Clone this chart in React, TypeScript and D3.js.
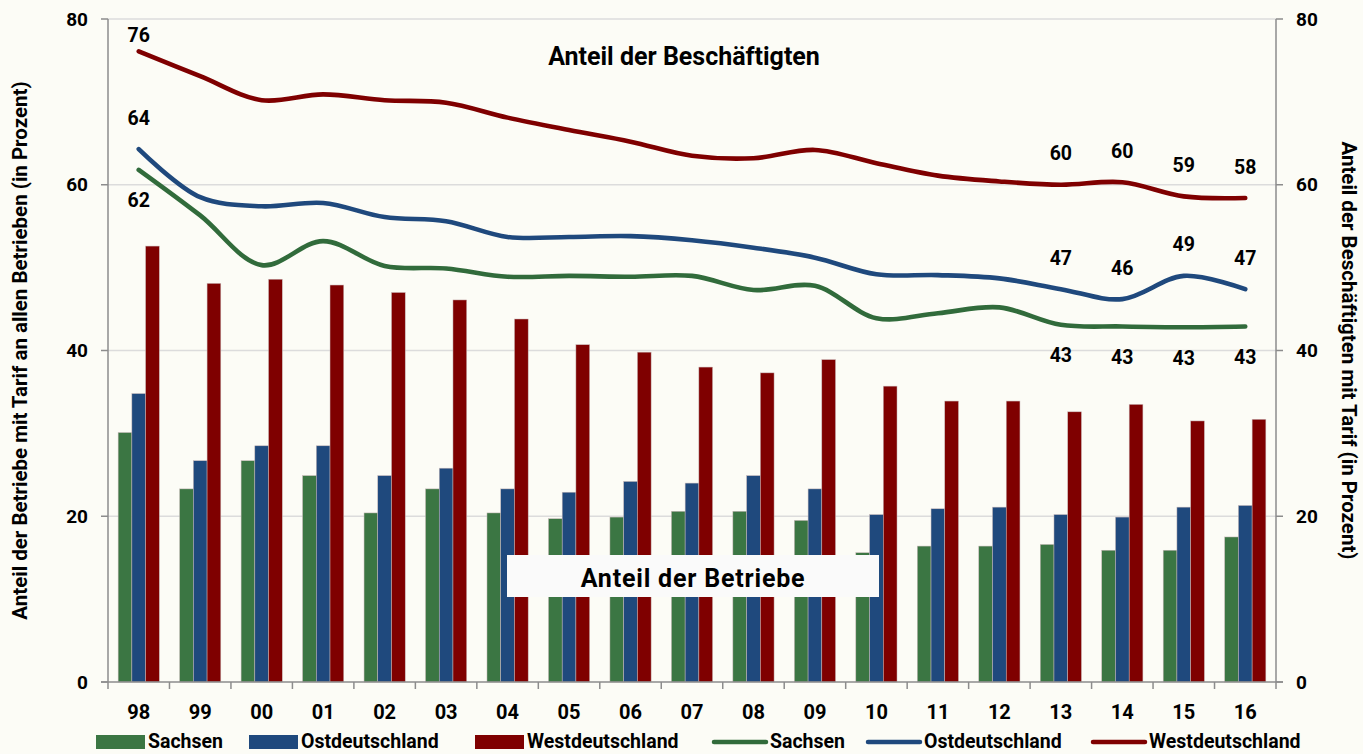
import { useEffect } from 'react';
import * as d3 from 'd3';

const years = ['98', '99', '00', '01', '02', '03', '04', '05', '06', '07', '08', '09', '10', '11', '12', '13', '14', '15', '16'];

// Anteil der Betriebe (Balken, linke Achse)
const betriebeSachsen = [30.1, 23.3, 26.7, 24.9, 20.4, 23.3, 20.4, 19.7, 19.9, 20.6, 20.6, 19.5, 15.6, 16.4, 16.4, 16.6, 15.9, 15.9, 17.5];
const betriebeOst = [34.8, 26.7, 28.5, 28.5, 24.9, 25.8, 23.3, 22.9, 24.2, 24.0, 24.9, 23.3, 20.2, 20.9, 21.1, 20.2, 19.9, 21.1, 21.3];
const betriebeWest = [52.6, 48.1, 48.6, 47.9, 47.0, 46.1, 43.8, 40.7, 39.8, 38.0, 37.3, 38.9, 35.7, 33.9, 33.9, 32.6, 33.5, 31.5, 31.7];

// Anteil der Beschäftigten (Linien, rechte Achse)
const beschSachsen = [61.8, 56.3, 50.3, 53.2, 50.2, 49.9, 48.9, 49.0, 48.9, 49.0, 47.3, 47.8, 43.9, 44.5, 45.2, 43.1, 42.9, 42.8, 42.9];
const beschOst = [64.3, 58.5, 57.4, 57.8, 56.1, 55.6, 53.7, 53.7, 53.8, 53.3, 52.4, 51.2, 49.2, 49.1, 48.7, 47.4, 46.2, 49.0, 47.4];
const beschWest = [76.1, 73.1, 70.2, 70.9, 70.2, 69.9, 68.1, 66.6, 65.2, 63.5, 63.2, 64.2, 62.6, 61.1, 60.4, 60.0, 60.3, 58.6, 58.4];

const labelledIdx = [0, 15, 16, 17, 18];
const yTicks = [0, 20, 40, 60, 80];

const GREEN = '#3b7643';
const BLUE = '#1f497d';
const RED = '#7f0000';
const LINE_GREEN = '#316b3b';
const FONT = 'Roboto, "Open Sans", sans-serif';

export default function App() {
  useEffect(() => {
    document.body.style.margin = '0';
    document.body.style.background = '#fcfcf6';
  }, []);

  const W = 1363;
  const H = 754;
  const left = 108;
  const right = 1276;
  const top = 19;
  const bottom = 682;

  const x = d3.scaleBand<string>().domain(years).range([left, right]).paddingInner(0.33).paddingOuter(0.165);
  const step = (right - left) / years.length;
  const sub = d3.scaleBand<string>().domain(['s', 'o', 'w']).range([0, x.bandwidth()]);
  const y = d3.scaleLinear().domain([0, 80]).range([bottom, top]);
  const cx = (i: number) => (x(years[i]) as number) + x.bandwidth() / 2;

  const line = d3
    .line<number>()
    .x((_, i) => cx(i))
    .y((d) => y(d))
    .curve(d3.curveCatmullRom.alpha(0.5));

  const barSeries = [
    { key: 's', data: betriebeSachsen, color: GREEN },
    { key: 'o', data: betriebeOst, color: BLUE },
    { key: 'w', data: betriebeWest, color: RED },
  ];
  const lineSeries = [
    { data: beschSachsen, color: LINE_GREEN, below: true },
    { data: beschOst, color: BLUE, below: false },
    { data: beschWest, color: RED, below: false },
  ];

  const legendItems = [
    { kind: 'bar', label: 'Sachsen', color: GREEN, x: 96 },
    { kind: 'bar', label: 'Ostdeutschland', color: BLUE, x: 249 },
    { kind: 'bar', label: 'Westdeutschland', color: RED, x: 475 },
    { kind: 'line', label: 'Sachsen', color: LINE_GREEN, x: 714 },
    { kind: 'line', label: 'Ostdeutschland', color: BLUE, x: 868 },
    { kind: 'line', label: 'Westdeutschland', color: RED, x: 1093 },
  ];

  return (
    <svg width={W} height={H} style={{ display: 'block', background: '#fcfcf6', fontFamily: FONT }}>
      {/* grid */}
      {yTicks.slice(1).map((t) => (
        <line key={'g' + t} x1={left} x2={right} y1={y(t)} y2={y(t)} stroke="#dcdcdc" strokeWidth={1.3} />
      ))}

      {/* bars */}
      {barSeries.map((s) =>
        s.data.map((v, i) => (
          <rect
            key={s.key + i}
            x={(x(years[i]) as number) + (sub(s.key) as number)}
            y={y(v)}
            width={sub.bandwidth()}
            height={bottom - y(v)}
            fill={s.color}
            stroke="#c9b9b9"
            strokeWidth={0.5}
          />
        ))
      )}

      {/* Box: Anteil der Betriebe */}
      <rect x={507} y={555} width={372} height={42} fill="#fafafa" />
      <text x={693} y={578} textAnchor="middle" dominantBaseline="central" fontSize={25} fontWeight="bold" letterSpacing={0.8} fill="#000">
        Anteil der Betriebe
      </text>

      {/* lines */}
      {lineSeries.map((s, k) => (
        <path key={'l' + k} d={line(s.data) || ''} fill="none" stroke={s.color} strokeWidth={4.6} strokeLinecap="round" />
      ))}

      {/* line labels */}
      {lineSeries.map((s, k) =>
        labelledIdx.map((i) => {
          const py = y(s.data[i]);
          const ly = s.below ? py + 31 : Math.max(py - 31, 35);
          return (
            <text key={'t' + k + i} x={cx(i)} y={ly} textAnchor="middle" dominantBaseline="central" fontSize={19.5} fontWeight="bold" fill="#000">
              {Math.round(s.data[i])}
            </text>
          );
        })
      )}

      {/* axes */}
      <line x1={left} x2={left} y1={top} y2={bottom} stroke="#8c8c8c" strokeWidth={1.5} />
      <line x1={right} x2={right} y1={top} y2={bottom} stroke="#8c8c8c" strokeWidth={1.5} />
      <line x1={left - 7} x2={right + 7} y1={bottom} y2={bottom} stroke="#8c8c8c" strokeWidth={1.5} />
      {yTicks.map((t) => (
        <g key={'yt' + t}>
          <line x1={left - 7} x2={left} y1={y(t)} y2={y(t)} stroke="#8c8c8c" strokeWidth={1.5} />
          <line x1={right} x2={right + 7} y1={y(t)} y2={y(t)} stroke="#8c8c8c" strokeWidth={1.5} />
          <text x={88} y={y(t)} textAnchor="end" dominantBaseline="central" fontSize={19} fontWeight="bold" fill="#000">
            {t}
          </text>
          <text x={1296} y={y(t)} textAnchor="start" dominantBaseline="central" fontSize={19} fontWeight="bold" fill="#000">
            {t}
          </text>
        </g>
      ))}
      {d3.range(years.length + 1).map((i) => (
        <line key={'xt' + i} x1={left + i * step} x2={left + i * step} y1={bottom} y2={bottom + 7} stroke="#8c8c8c" strokeWidth={1.5} />
      ))}
      {years.map((yr, i) => (
        <text key={'xl' + yr} x={cx(i)} y={712} textAnchor="middle" dominantBaseline="central" fontSize={20} fontWeight="bold" fill="#000">
          {yr}
        </text>
      ))}

      {/* titles */}
      <text x={684} y={56} textAnchor="middle" dominantBaseline="central" fontSize={25} fontWeight="bold" fill="#000">
        Anteil der Beschäftigten
      </text>
      <text
        transform={`translate(20,${(top + bottom) / 2}) rotate(-90)`}
        textAnchor="middle"
        dominantBaseline="central"
        fontSize={20.5}
        fontWeight="bold"
        fill="#000"
      >
        Anteil der Betriebe mit Tarif an allen Betrieben (in Prozent)
      </text>
      <text
        transform={`translate(1349,${(top + bottom) / 2}) rotate(90)`}
        textAnchor="middle"
        dominantBaseline="central"
        fontSize={20.5}
        fontWeight="bold"
        fill="#000"
      >
        Anteil der Beschäftigten mit Tarif (in Prozent)
      </text>

      {/* legend */}
      {legendItems.map((it, i) => (
        <g key={'lg' + i}>
          {it.kind === 'bar' ? (
            <rect x={it.x} y={735} width={49} height={14} fill={it.color} />
          ) : (
            <line x1={it.x} x2={it.x + 52} y1={742} y2={742} stroke={it.color} strokeWidth={4.5} strokeLinecap="round" />
          )}
          <text x={it.x + (it.kind === 'bar' ? 52 : 56)} y={741} dominantBaseline="central" fontSize={19.5} fontWeight="bold" fill="#000">
            {it.label}
          </text>
        </g>
      ))}
    </svg>
  );
}
